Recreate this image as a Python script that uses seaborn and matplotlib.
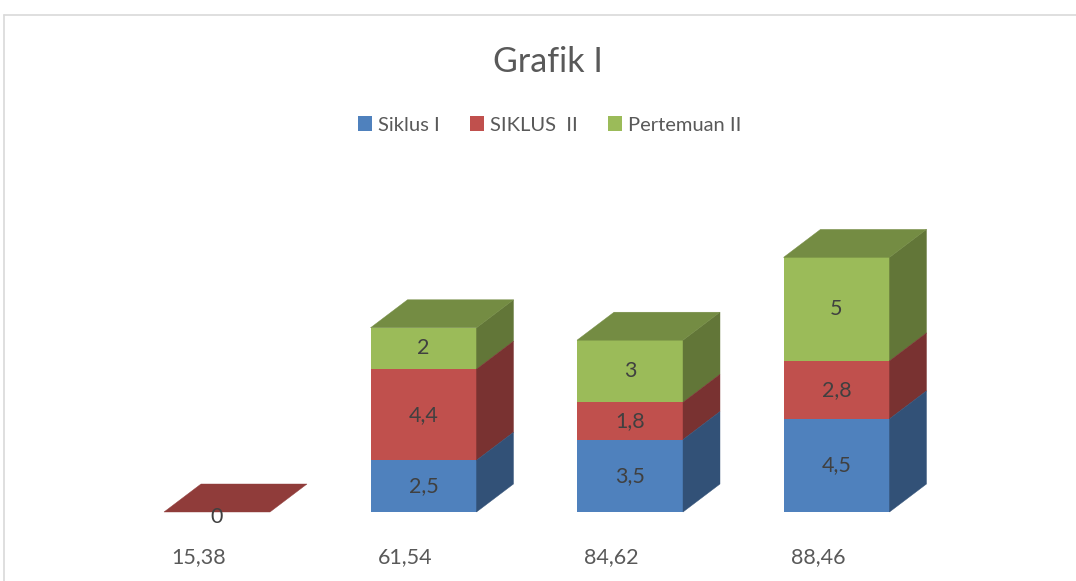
import seaborn as sns
import matplotlib.pyplot as plt
import numpy as np
from matplotlib.patches import Patch
from matplotlib.lines import Line2D

# data
categories = ['15,38', '61,54', '84,62', '88,46']
siklus_1 = [np.nan, 2.5, 3.5, 4.5]
siklus_2 = [0, 4.4, 1.8, 2.8]
pertemuan_2 = [np.nan, 2, 3, 5]
series_names = ['Siklus I', 'SIKLUS  II', 'Pertemuan II']
colors = ['#4F81BD', '#C0504D', '#9BBB59']

sns.set_style('white')
plt.rcParams['font.family'] = ['Lato', 'DejaVu Sans']

W, H = 1076, 581
fig = plt.figure(figsize=(W / 100, H / 100), dpi=100)
ax = fig.add_axes([0, 0, 1, 1])

# pixel geometry of the 3d-ish bars
px_cat = 206.5      # pixels per category step
px_unit = 20.7      # pixels per y unit
x0_px = 217         # first category centre
base_px = 69        # baseline, from bottom
ax.set_xlim(-x0_px / px_cat, (W - x0_px) / px_cat)
ax.set_ylim(-base_px / px_unit, (H - base_px) / px_unit)
ax.axis('off')
bar_w = 106 / px_cat
ddx = 37 / px_cat
ddy = 28 / px_unit


def shade(c, f):
    r, g, b = plt.matplotlib.colors.to_rgb(c)
    return (r * f, g * f, b * f)


vals = np.array([siklus_1, siklus_2, pertemuan_2], dtype=float)
filled = np.nan_to_num(vals)
cum = np.cumsum(filled, axis=0)
bottoms = cum - filled
top_idx = [max(i for i in range(3) if not np.isnan(vals[i, j])) for j in range(len(categories))]

# draw from top series down so that lower segments cover the taller bars
for s in [2, 1, 0]:
    heights = [cum[s, j] if not np.isnan(vals[s, j]) else np.nan for j in range(len(categories))]
    sns.barplot(x=list(range(len(categories))), y=heights, color=colors[s], width=bar_w,
                saturation=1, ax=ax, native_scale=True, linewidth=0, errorbar=None)
    for j in range(len(categories)):
        if np.isnan(vals[s, j]):
            continue
        xr = j + bar_w / 2
        xl = j - bar_w / 2
        y0, y1 = bottoms[s, j], cum[s, j]
        # side face
        if y1 > y0:
            ax.fill([xr, xr + ddx, xr + ddx, xr], [y0, y0 + ddy, y1 + ddy, y1],
                    color=shade(colors[s], 0.63), lw=0.3, zorder=2)
        # top face
        if top_idx[j] == s:
            ax.fill([xl, xr, xr + ddx, xl + ddx], [y1, y1, y1 + ddy, y1 + ddy],
                    color=shade(colors[s], 0.75), lw=0.3, zorder=2)

ax.set_xlim(-x0_px / px_cat, (W - x0_px) / px_cat)
ax.set_ylim(-base_px / px_unit, (H - base_px) / px_unit)

# data labels
for s in range(3):
    for j in range(len(categories)):
        v = vals[s, j]
        if np.isnan(v):
            continue
        yc = (bottoms[s, j] + cum[s, j]) / 2 if v > 0 else -5 / px_unit
        ax.text(j, yc, f'{v:g}'.replace('.', ','), ha='center', va='center',
                fontsize=15.5, color='#404040', zorder=5)

# category labels
for j, c in enumerate(categories):
    ax.text(j - ddx / 2, -45 / px_unit, c, ha='center', va='center',
            fontsize=15.5, color='#595959')

# title and legend
fig.text(548 / W, 1 - 62 / H, 'Grafik I', ha='center', va='center', fontsize=24.5, color='#595959')
handles = [Patch(facecolor=c, edgecolor='none') for c in colors]
leg = fig.legend(handles, series_names, loc='center', bbox_to_anchor=(550 / W, 1 - 125 / H),
                 ncol=3, frameon=False, fontsize=14.5, handlelength=0.7, handleheight=0.7,
                 handletextpad=0.3, columnspacing=1.5)
for t in leg.get_texts():
    t.set_color('#595959')

# chart frame
fig.add_artist(Line2D([4 / W, 1], [1 - 15 / H, 1 - 15 / H], color='#D9D9D9', lw=1.2))
fig.add_artist(Line2D([4 / W, 4 / W], [0, 1 - 15 / H], color='#D9D9D9', lw=1.2))

fig.savefig('out.png', dpi=100)
